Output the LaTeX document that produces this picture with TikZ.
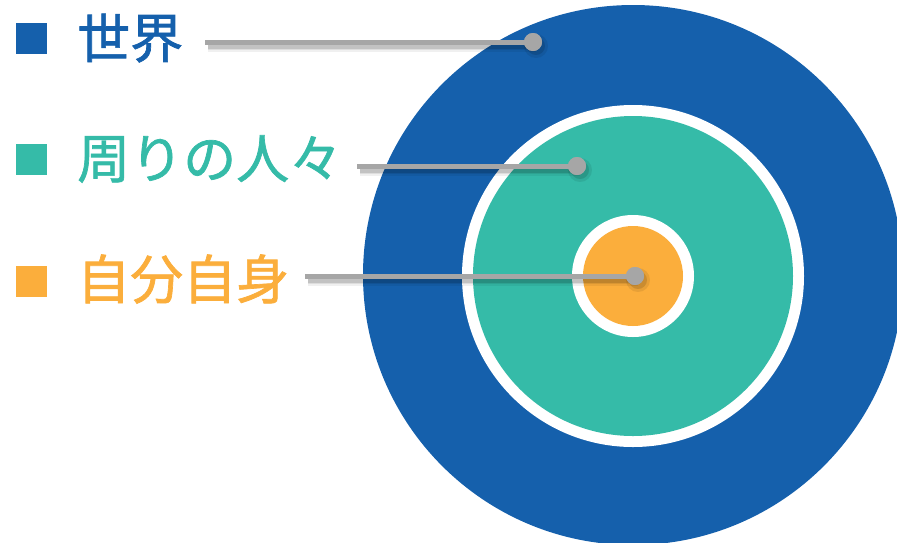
\documentclass[tikz,border=0pt]{standalone}
\usepackage{fontspec}
\newfontfamily\cjk[FakeBold=1.3]{Noto Sans CJK JP}
\definecolor{cblue}{HTML}{1560AC}
\definecolor{cteal}{HTML}{35BBA8}
\definecolor{corange}{HTML}{FBAE3C}
\definecolor{cgray}{HTML}{A6A6A6}
\tikzset{
  sq/.style={rectangle, minimum size=31pt, inner sep=0pt},
  lbl/.style={anchor=west, inner sep=0pt, font=\cjk\fontsize{53pt}{60pt}\selectfont},
  dotnode/.style={circle, fill=cgray, minimum size=18pt, inner sep=0pt},
  conn/.style={draw=cgray, line width=5pt},
  shA/.style={draw=black, opacity=0.06, line width=11pt},
  shB/.style={draw=black, opacity=0.08, line width=8pt},
  shC/.style={draw=black, opacity=0.12, line width=5pt},
}
\begin{document}
\begin{tikzpicture}[x=1pt,y=-1pt]
\useasboundingbox (0,0) rectangle (897,542);
\begin{scope}
\clip (0,0) rectangle (897,542);
\fill[cblue] (633,275) circle[radius=270pt];
\fill[white] (633,276) circle[radius=171pt];
\fill[cteal] (633,276) circle[radius=160pt];
\fill[white] (633,276) circle[radius=61pt];
\fill[corange] (633,276) circle[radius=50pt];
\end{scope}
% legend
\node[sq, fill=cblue] (s1) at (31.5,38.5) {};
\node[sq, fill=cteal] (s2) at (31.5,159) {};
\node[sq, fill=corange] (s3) at (31.5,281) {};
\node[lbl, text=cblue] (t1) at (77,38) {世界};
\node[lbl, text=cteal] (t2) at (77,159) {周りの人々};
\node[lbl, text=corange] (t3) at (77,279) {自分自身};
% connector ends
\coordinate (a1) at (205,42);
\coordinate (a2) at (357,166);
\coordinate (a3) at (305,276);
\coordinate (p1) at (533,42);
\coordinate (p2) at (577,166);
\coordinate (p3) at (635,276);
% shadows
\foreach \a/\p in {a1/p1,a2/p2,a3/p3}{
  \path[shA] ([shift={(3,4)}]\a) -- ([shift={(3,4)}]\p);
  \path[shB] ([shift={(3,4)}]\a) -- ([shift={(3,4)}]\p);
  \path[shC] ([shift={(3,4)}]\a) -- ([shift={(3,4)}]\p);
  \fill[black, opacity=0.08] ([shift={(3,4)}]\p) circle[radius=12pt];
  \fill[black, opacity=0.12] ([shift={(3,4)}]\p) circle[radius=9pt];
}
% dots and connectors
\node[dotnode] (d1) at (p1) {};
\node[dotnode] (d2) at (p2) {};
\node[dotnode] (d3) at (p3) {};
\draw[conn] (a1) -- (d1.center);
\draw[conn] (a2) -- (d2.center);
\draw[conn] (a3) -- (d3.center);
\node[dotnode] at (d1) {};
\node[dotnode] at (d2) {};
\node[dotnode] at (d3) {};
\end{tikzpicture}
\end{document}
